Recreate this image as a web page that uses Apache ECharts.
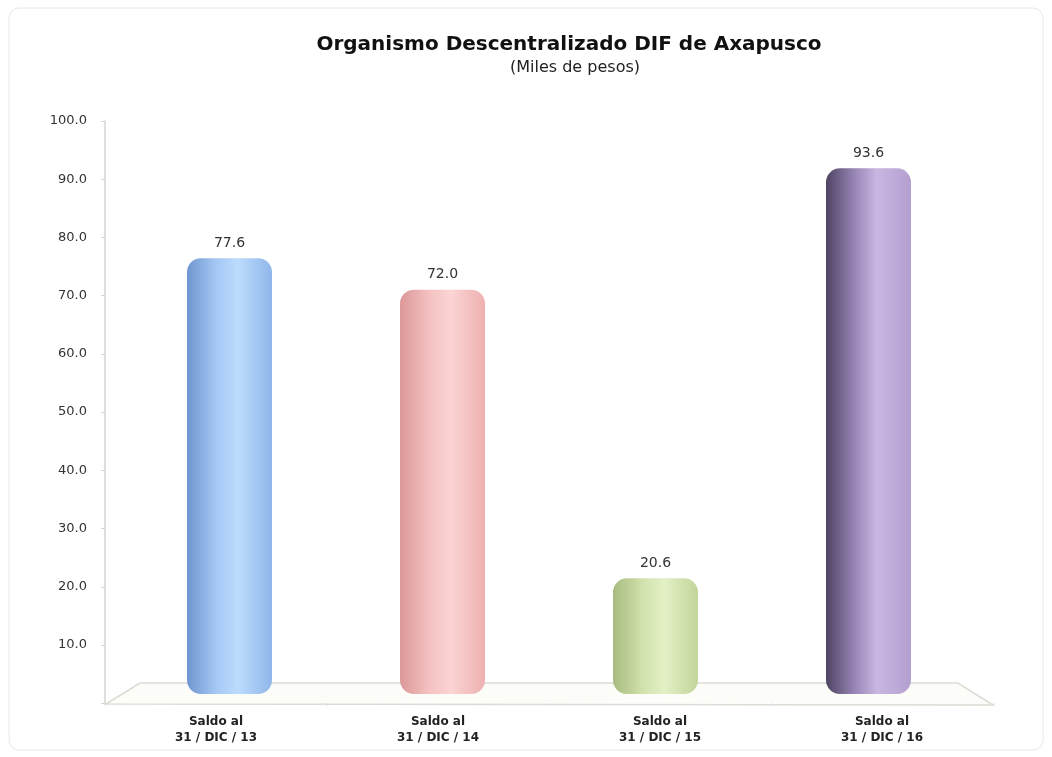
<!DOCTYPE html>
<html><head><meta charset="utf-8">
<script src="https://cdn.jsdelivr.net/npm/echarts@6/dist/echarts.min.js"></script>
<style>html,body{margin:0;padding:0;background:#fff}#c{width:1052px;height:757px}</style>
</head><body><div id="c"></div>
<script>
const categories = ['Saldo al\n31 / DIC / 13', 'Saldo al\n31 / DIC / 14', 'Saldo al\n31 / DIC / 15', 'Saldo al\n31 / DIC / 16'];
const values = [77.6, 72.0, 20.6, 93.6];
const yTicks = [10, 20, 30, 40, 50, 60, 70, 80, 90, 100];
const titleText = 'Organismo Descentralizado DIF de Axapusco';
const subtitleText = '(Miles de pesos)';
const colorSets = [
  ['#6f96d0', '#a6c8f4', '#bcdcfd', '#8fb6ea'],
  ['#dc9898', '#f5c2c2', '#fbd4d4', '#eeb0b0'],
  ['#a7bb7f', '#d1e2ac', '#e4f0c6', '#c2d59a'],
  ['#4f4463', '#9a88b8', '#c9b6e2', '#b3a0d0']
];
function grad(c) {
  return new echarts.graphic.LinearGradient(0, 0, 1, 0, [
    {offset: 0, color: c[0]}, {offset: 0.35, color: c[1]},
    {offset: 0.6, color: c[2]}, {offset: 1, color: c[3]}
  ]);
}
const FONT = 'DejaVu Sans';
const chart = echarts.init(document.getElementById('c'), null, {renderer: 'canvas'});
chart.setOption({
  backgroundColor: '#fff',
  graphic: [
    {type: 'rect', shape: {x: 9, y: 8, width: 1034, height: 742, r: 10}, style: {fill: 'none', stroke: '#e8e8e8', lineWidth: 1}, z: -10},
    {type: 'polygon', shape: {points: [[106, 704], [140, 683], [958, 683], [993, 705]]}, style: {fill: '#fcfcf8', stroke: '#dcdcd6', lineWidth: 1.5}, z: -1},
    {type: 'text', x: 569, y: 45, style: {text: titleText, align: 'center', verticalAlign: 'middle', font: 'bold 20px "DejaVu Sans"', fill: '#111'}},
    {type: 'text', x: 575, y: 68, style: {text: subtitleText, align: 'center', verticalAlign: 'middle', font: '16px "DejaVu Sans"', fill: '#222'}}
  ],
  grid: [
    {left: 123, right: 77, top: 121, bottom: 54},
    {left: 105, right: 59, top: 121, bottom: 53.8}
  ],
  xAxis: [{
    type: 'category', data: categories, gridIndex: 0,
    axisLine: {show: false}, axisTick: {show: false}, axisLabel: {show: false}
  }, {
    type: 'category', data: categories, gridIndex: 1,
    axisLine: {show: false}, axisTick: {show: true, length: 3, lineStyle: {color: '#e0e0e0'}},
    axisLabel: {fontFamily: FONT, fontWeight: 'bold', fontSize: 12, color: '#222', lineHeight: 16, margin: 11}
  }],
  yAxis: [{
    type: 'value', min: 0, max: 100, interval: 10, gridIndex: 1,
    axisLine: {show: true, lineStyle: {color: '#d4d4d4', width: 1.5}},
    axisTick: {show: true, length: 4, lineStyle: {color: '#d4d4d4'}},
    splitLine: {show: false},
    axisLabel: {
      fontFamily: FONT, fontSize: 13, color: '#333', margin: 18,
      formatter: v => yTicks.includes(v) ? v.toFixed(1) : ''
    }
  }, {
    type: 'value', min: -1.6, max: 102.03, show: false, gridIndex: 0, splitLine: {show: false}
  }],
  series: [{
    type: 'bar', barWidth: 85, xAxisIndex: 0, yAxisIndex: 1,
    data: values.map((v, i) => ({value: v, itemStyle: {color: grad(colorSets[i]), borderRadius: [14, 14, 14, 14]}})),
    label: {show: true, position: 'top', distance: 8, formatter: p => p.value.toFixed(1),
      fontFamily: FONT, fontSize: 14, color: '#333'}
  }]
});
</script></body></html>
